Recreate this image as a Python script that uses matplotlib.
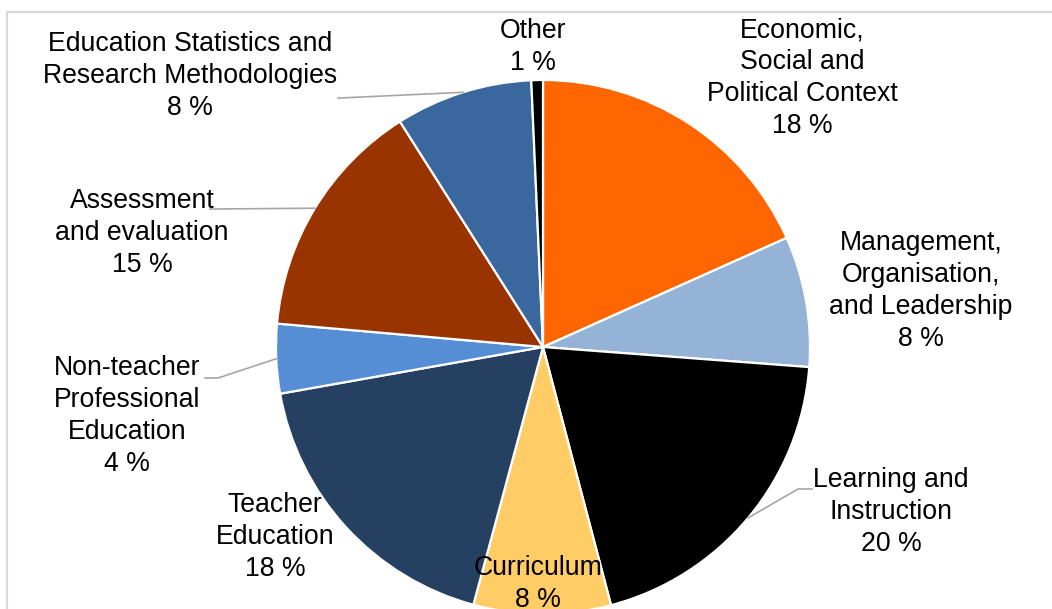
import numpy as np
import matplotlib.pyplot as plt
from matplotlib.lines import Line2D

plt.rcParams['font.family'] = ['Liberation Sans', 'DejaVu Sans']

labels = ['Economic,\nSocial and\nPolitical Context',
          'Management,\nOrganisation,\nand Leadership',
          'Learning and\nInstruction',
          'Curriculum',
          'Teacher\nEducation',
          'Non-teacher\nProfessional\nEducation',
          'Assessment\nand evaluation',
          'Education Statistics and\nResearch Methodologies',
          'Other']
shares = [18.3, 7.9, 19.7, 8.3, 18.0, 4.2, 14.6, 8.3, 0.7]
colors = ['#FF6600', '#95B3D7', '#000000', '#FFCC66', '#254061',
          '#558ED5', '#993300', '#3A679E', '#000000']

# label centres in pixel coords (x, y from top), leader line flag
label_pos = [(802, 78), (921, 291), (891, 512), (538, 584), (275, 537),
             (127, 416), (142, 233), (190, 76), (533, 47)]
leaders = [None, None, (812, 489, 798), None, None,
           (205, 378, 218), (210, 209, 214), (338, 98, 340), None]

W, H = 1052, 609
fig = plt.figure(figsize=(W / 100, H / 100), dpi=100)
ax = fig.add_axes([0, 0, 1, 1])
ax.axis('off')

cx, cy, r = 543, 347, 267
wedges, _ = ax.pie(shares, colors=colors, startangle=90, counterclock=False,
                   center=(cx, -cy), radius=r, frame=False,
                   wedgeprops=dict(edgecolor='white', linewidth=1.6))
# pie draws with y up, so pixel rows are negative y
ax.set_xlim(0, W)
ax.set_ylim(-H, 0)
ax.set_aspect('equal')

for i, w in enumerate(wedges):
    pct = round(shares[i])
    tx, ty = label_pos[i]
    ax.text(tx, -ty, f'{labels[i]}\n{pct} %', ha='center', va='center',
            fontsize=19.2, linespacing=1.29, color='black')
    if leaders[i] is not None:
        lx, ly, kx = leaders[i]
        mid = np.deg2rad((w.theta1 + w.theta2) / 2)
        ex = cx + r * np.cos(mid)
        ey = -cy + r * np.sin(mid)
        ax.add_line(Line2D([lx, kx, ex], [-ly, -ly, ey], color='#A6A6A6', lw=1.2))

# chart area border
ax.add_line(Line2D([7, 7, W], [-H, -12, -12], color='#D9D9D9', lw=1.6))

fig.savefig('out.png', dpi=100)
